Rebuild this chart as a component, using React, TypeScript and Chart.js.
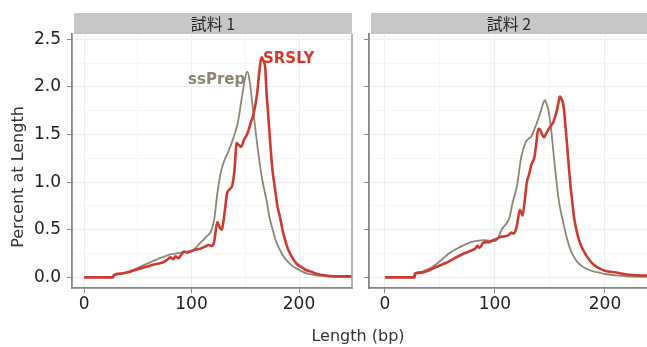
import React, { useEffect, useRef } from 'react';
import { Chart, registerables } from 'chart.js';
Chart.register(...registerables);

// ---------- data ----------
const panelTitles = ['試料 1', '試料 2'];
const seriesNames = ['ssPrep', 'SRSLY'];
const seriesColors = ['#8e8672', '#cf3a2e'];
const xAxisTitle = 'Length (bp)';
const yAxisTitle = 'Percent at Length';

const xTickValues = [0, 50, 100, 150, 200];
const xTickLabels = ['0', '', '100', '', '200'];
const yTickValues = [0, 0.25, 0.5, 0.75, 1, 1.25, 1.5, 1.75, 2, 2.25, 2.5];
const yTickLabels = ['0.0', '', '0.5', '', '1.0', '', '1.5', '', '2.0', '', '2.5'];

// label annotations (data units, sample 1 panel)
const labelLen = [150, 166.5];
const labelPct = [2.07, 2.29];

// Sample 1
const s1SsPrepLen = [0, 26, 27, 30, 35, 40, 45, 50, 55, 60, 65, 70, 75, 80, 85, 90, 95, 100, 104, 107, 110, 114, 118, 121, 124, 127, 130, 133, 136, 140, 143, 147, 150, 152, 154, 156, 158, 160, 163, 165, 168, 170, 172, 175, 178, 180, 185, 190, 195, 200, 205, 210, 220, 230, 240, 250];
const s1SsPrepPct = [0, 0, 0.02, 0.03, 0.04, 0.055, 0.075, 0.10, 0.125, 0.15, 0.175, 0.20, 0.22, 0.24, 0.25, 0.26, 0.27, 0.28, 0.31, 0.35, 0.38, 0.43, 0.48, 0.60, 0.88, 1.09, 1.21, 1.29, 1.37, 1.50, 1.62, 1.90, 2.10, 2.16, 2.07, 1.88, 1.69, 1.50, 1.23, 1.08, 0.90, 0.80, 0.66, 0.52, 0.40, 0.34, 0.23, 0.16, 0.11, 0.08, 0.05, 0.035, 0.015, 0.008, 0.005, 0.005];
const s1SrslyLen = [0, 27, 28, 35, 43, 50, 58, 65, 74, 78, 80, 83, 85, 88, 90, 93, 96, 99, 103, 108, 112, 116, 119, 121, 124, 126, 128, 131, 133, 135, 138, 140, 142, 144, 146, 149, 152, 155, 158, 161, 163, 165, 167, 168.5, 170, 171, 173, 175, 178, 180, 182, 185, 189, 193, 198, 202, 206, 211, 217, 225, 233, 240, 250];
const s1SrslyPct = [0, 0, 0.025, 0.04, 0.06, 0.085, 0.11, 0.135, 0.16, 0.19, 0.21, 0.19, 0.22, 0.20, 0.23, 0.27, 0.26, 0.27, 0.29, 0.30, 0.32, 0.34, 0.33, 0.37, 0.58, 0.53, 0.50, 0.70, 0.88, 0.92, 0.97, 1.13, 1.41, 1.39, 1.37, 1.45, 1.51, 1.62, 1.73, 1.93, 2.15, 2.31, 2.27, 2.21, 1.90, 1.76, 1.45, 1.16, 0.90, 0.74, 0.65, 0.48, 0.32, 0.22, 0.14, 0.11, 0.08, 0.06, 0.035, 0.02, 0.012, 0.01, 0.01];

// Sample 2
const s2SsPrepLen = [0, 26, 27, 30, 36, 42, 48, 53, 58, 62, 67, 72, 76, 80, 85, 90, 95, 100, 103, 106, 110, 113, 116, 120, 124, 128, 131, 133, 136, 138, 141, 143, 145.5, 147, 148.5, 150, 151.5, 153, 154.5, 156, 157.5, 159, 162, 165, 168, 171, 175, 180, 185, 190, 195, 200, 210, 220, 240];
const s2SsPrepPct = [0, 0, 0.04, 0.05, 0.07, 0.10, 0.15, 0.20, 0.25, 0.28, 0.31, 0.34, 0.36, 0.375, 0.385, 0.39, 0.385, 0.38, 0.42, 0.50, 0.56, 0.62, 0.78, 0.96, 1.27, 1.42, 1.46, 1.48, 1.56, 1.62, 1.72, 1.80, 1.86, 1.82, 1.76, 1.65, 1.51, 1.33, 1.16, 1.00, 0.85, 0.74, 0.58, 0.43, 0.31, 0.23, 0.16, 0.11, 0.08, 0.06, 0.05, 0.035, 0.02, 0.01, 0.005];
const s2SrslyLen = [0, 27, 27.5, 33, 39, 45, 51, 57, 63, 70, 76, 80, 82, 84, 86, 89, 92, 95, 98, 101, 104, 108, 112, 115, 117, 119.7, 122.7, 125, 127, 129, 131, 133, 136, 137.5, 139.4, 141, 143, 144.5, 147, 150, 153, 156, 158, 159, 161, 162.5, 164, 165.5, 167, 168.5, 170, 172, 175, 178, 182, 186, 190, 195, 200, 210, 220, 235, 240];
const s2SrslyPct = [0, 0, 0.04, 0.05, 0.07, 0.10, 0.13, 0.16, 0.20, 0.24, 0.27, 0.29, 0.30, 0.33, 0.31, 0.36, 0.37, 0.37, 0.39, 0.40, 0.42, 0.43, 0.44, 0.47, 0.46, 0.53, 0.71, 0.65, 0.80, 1.00, 1.08, 1.18, 1.27, 1.40, 1.56, 1.55, 1.50, 1.47, 1.52, 1.58, 1.63, 1.74, 1.85, 1.90, 1.86, 1.79, 1.60, 1.40, 1.18, 0.98, 0.82, 0.62, 0.45, 0.34, 0.25, 0.18, 0.13, 0.095, 0.07, 0.05, 0.03, 0.02, 0.02];

// ---------- helpers ----------
const FONT = '"DejaVu Sans", sans-serif';
const CJK = '"Noto Sans CJK JP", sans-serif';
const TEXT = '#222222';
const BORDER = '#858585';

const pts = (xs: number[], ys: number[]) => xs.map((x, i) => ({ x, y: ys[i] }));

const isMajorX = (v: number) => v % 100 === 0;
const isMajorY = (v: number) => Math.abs(v * 2 - Math.round(v * 2)) < 1e-6;

const panelPlugin = {
  id: 'panelDeco',
  beforeDraw(chart: any, _a: any, opts: any) {
    const { ctx, chartArea: a } = chart;
    ctx.save();
    ctx.fillStyle = '#c7c7c7';
    ctx.fillRect(a.left + 2, 13, a.right - a.left - 2, 21);
    ctx.fillStyle = '#2b2b2b';
    ctx.font = `16px ${CJK}`;
    ctx.textAlign = 'center';
    ctx.textBaseline = 'middle';
    ctx.fillText(opts.title, (a.left + 2 + a.right) / 2, 24);
    if (opts.yTitle) {
      ctx.translate(19, 177);
      ctx.rotate(-Math.PI / 2);
      ctx.fillStyle = '#333333';
      ctx.font = `16px ${FONT}`;
      ctx.fillText(opts.yTitle, 0, 0);
    }
    ctx.restore();
  },
  afterDraw(chart: any, _a: any, opts: any) {
    const { ctx, chartArea: a, scales } = chart;
    ctx.save();
    if (opts.rightBorder) {
      ctx.strokeStyle = '#9a9a9a';
      ctx.lineWidth = 1.5;
      ctx.beginPath();
      ctx.moveTo(a.right, 34);
      ctx.lineTo(a.right, a.bottom);
      ctx.stroke();
    }
    if (opts.labels) {
      ctx.font = `bold 15px ${FONT}`;
      ctx.textBaseline = 'middle';
      // ssPrep label, right aligned
      ctx.fillStyle = seriesColors[0];
      ctx.textAlign = 'right';
      ctx.fillText(seriesNames[0], scales.x.getPixelForValue(labelLen[0]), scales.y.getPixelForValue(labelPct[0]));
      ctx.fillStyle = seriesColors[1];
      ctx.textAlign = 'left';
      ctx.fillText(seriesNames[1], scales.x.getPixelForValue(labelLen[1]), scales.y.getPixelForValue(labelPct[1]));
    }
    ctx.restore();
  },
};

function buildConfig(p: {
  ssLen: number[]; ssPct: number[]; srLen: number[]; srPct: number[];
  xMin: number; xMax: number; yAxisWidth: number; showYLabels: boolean;
  padRight: number; title: string; yTitle?: string; rightBorder: boolean; labels: boolean;
}): any {
  return {
    type: 'line',
    data: {
      datasets: [
        {
          label: seriesNames[0],
          data: pts(p.ssLen, p.ssPct),
          borderColor: seriesColors[0],
          borderWidth: 1.8,
          pointRadius: 0,
          cubicInterpolationMode: 'monotone',
          fill: false,
          order: 1,
        },
        {
          label: seriesNames[1],
          data: pts(p.srLen, p.srPct),
          borderColor: seriesColors[1],
          borderWidth: 2.6,
          pointRadius: 0,
          cubicInterpolationMode: 'monotone',
          fill: false,
          order: 0,
        },
      ],
    },
    options: {
      responsive: false,
      animation: false,
      devicePixelRatio: 1,
      layout: { padding: { left: 0, top: 34, right: p.padRight, bottom: 0 } },
      plugins: {
        legend: { display: false },
        tooltip: { enabled: false },
        panelDeco: { title: p.title, yTitle: p.yTitle, rightBorder: p.rightBorder, labels: p.labels },
      },
      scales: {
        x: {
          type: 'linear',
          min: p.xMin,
          max: p.xMax,
          afterBuildTicks: (s: any) => { s.ticks = xTickValues.map((v) => ({ value: v })); },
          afterFit: (s: any) => { s.height = 59; },
          ticks: {
            autoSkip: false,
            maxRotation: 0,
            padding: 1,
            color: TEXT,
            font: { family: FONT, size: 17 },
            callback: (_v: any, i: number) => xTickLabels[i],
          },
          grid: {
            color: (c: any) => (c.tick && isMajorX(c.tick.value) ? '#ededed' : '#f5f5f5'),
            tickColor: (c: any) => (c.tick && isMajorX(c.tick.value) ? BORDER : 'rgba(0,0,0,0)'),
            tickLength: 5,
            lineWidth: 1,
          },
          border: { display: true, color: BORDER, width: 1.8 },
        },
        y: {
          type: 'linear',
          min: -0.112,
          max: 2.556,
          afterBuildTicks: (s: any) => { s.ticks = yTickValues.map((v) => ({ value: v })); },
          afterFit: (s: any) => { s.width = p.yAxisWidth; },
          ticks: {
            display: p.showYLabels,
            autoSkip: false,
            padding: 6,
            color: TEXT,
            font: { family: FONT, size: 17 },
            callback: (_v: any, i: number) => yTickLabels[i],
          },
          grid: {
            color: (c: any) => (c.tick && isMajorY(c.tick.value) ? '#ededed' : '#f5f5f5'),
            tickColor: (c: any) => (c.tick && isMajorY(c.tick.value) ? BORDER : 'rgba(0,0,0,0)'),
            tickLength: 5,
            lineWidth: 1,
          },
          border: { display: true, color: BORDER, width: 1.8 },
        },
      },
    },
    plugins: [panelPlugin],
  };
}

export default function App() {
  const ref1 = useRef<HTMLCanvasElement>(null);
  const ref2 = useRef<HTMLCanvasElement>(null);

  useEffect(() => {
    document.body.style.margin = '0';
    const c1 = new Chart(ref1.current as any, buildConfig({
      ssLen: s1SsPrepLen, ssPct: s1SsPrepPct, srLen: s1SrslyLen, srPct: s1SrslyPct,
      xMin: -11.2, xMax: 249.3, yAxisWidth: 72, showYLabels: true, padRight: 8,
      title: panelTitles[0], yTitle: yAxisTitle, rightBorder: true, labels: true,
    }));
    const c2 = new Chart(ref2.current as any, buildConfig({
      ssLen: s2SsPrepLen, ssPct: s2SsPrepPct, srLen: s2SrslyLen, srPct: s2SrslyPct,
      xMin: -14.5, xMax: 238.2, yAxisWidth: 9, showYLabels: false, padRight: 0,
      title: panelTitles[1], rightBorder: false, labels: false,
    }));
    return () => { c1.destroy(); c2.destroy(); };
  }, []);

  return (
    <div style={{ position: 'absolute', left: 0, top: 0, width: 647, height: 347, background: '#fff', overflow: 'hidden' }}>
      <canvas ref={ref1} width={360} height={347} style={{ position: 'absolute', left: 0, top: 0, width: 360, height: 347 }} />
      <canvas ref={ref2} width={287} height={347} style={{ position: 'absolute', left: 360, top: 0, width: 287, height: 347 }} />
      <div style={{ position: 'absolute', left: 258, top: 328, width: 200, textAlign: 'center', font: `16px ${FONT}`, lineHeight: '16px', color: '#333' }}>
        {xAxisTitle}
      </div>
    </div>
  );
}
